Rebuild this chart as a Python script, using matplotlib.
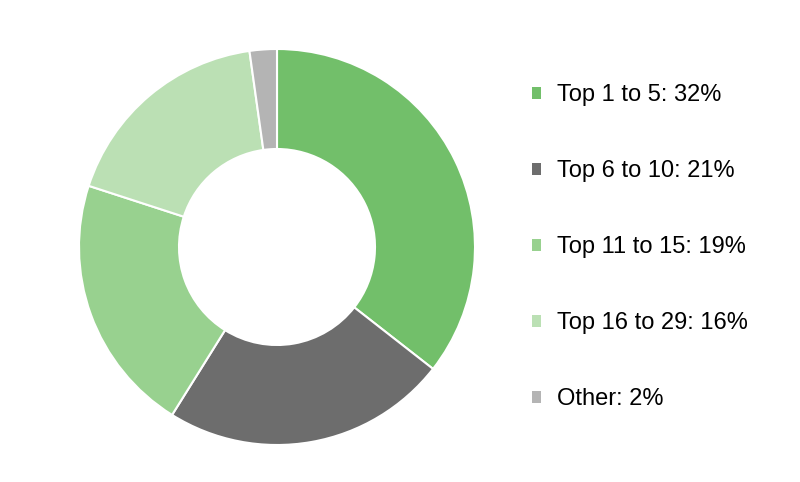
import matplotlib.pyplot as plt
from matplotlib.patches import Patch

plt.rcParams['font.family'] = ['Liberation Sans', 'DejaVu Sans']

labels = ["Top 1 to 5: 32%", "Top 6 to 10: 21%", "Top 11 to 15: 19%",
          "Top 16 to 29: 16%", "Other: 2%"]
values = [32, 21, 19, 16, 2]
colors = ["#72BF6A", "#6D6D6D", "#98D18F", "#BBE0B4", "#B4B4B4"]

fig = plt.figure(figsize=(8, 4.82), dpi=100)
ax = fig.add_axes([77 / 800, 35 / 482, 400 / 800, 400 / 482])
ax.pie(values, colors=colors, startangle=90, counterclock=False, radius=0.99,
       wedgeprops=dict(width=0.5, edgecolor="white", linewidth=1.5))
ax.set_xlim(-1, 1)
ax.set_ylim(-1, 1)
ax.set_aspect("equal")
ax.axis("off")

handles = [Patch(facecolor=c, edgecolor="none") for c in colors]
fig.legend(handles, labels, loc="upper left", bbox_to_anchor=(532 / 800, 1 - 84 / 482),
           frameon=False, fontsize=17, labelspacing=2.29, handlelength=0.4,
           handleheight=0.4, handletextpad=0.65, borderpad=0, borderaxespad=0)

fig.savefig("out.png", dpi=100, facecolor="white")
